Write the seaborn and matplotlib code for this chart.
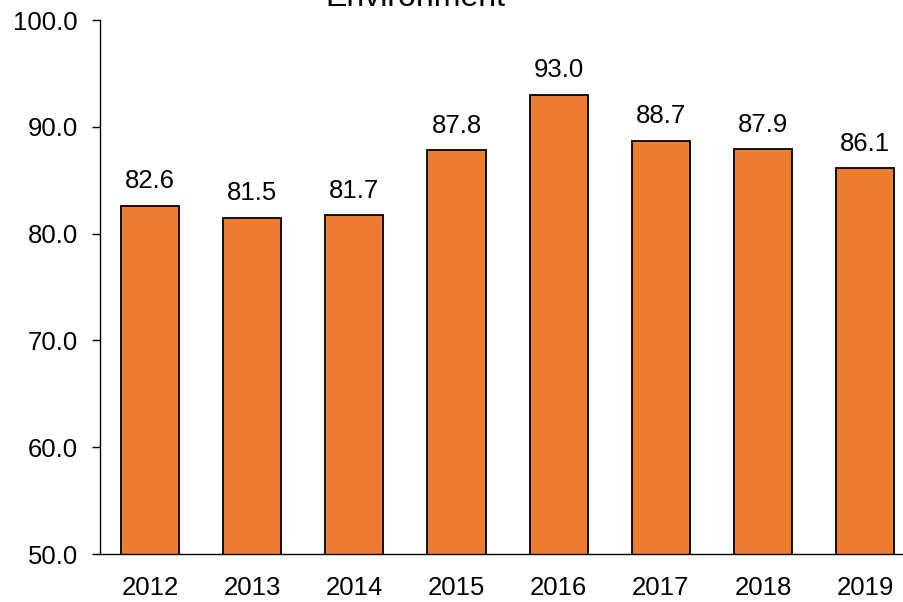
import matplotlib
matplotlib.use('Agg')
import matplotlib.pyplot as plt
import seaborn as sns
import pandas as pd

# data
years = ['2012', '2013', '2014', '2015', '2016', '2017', '2018', '2019']
values = [82.6, 81.5, 81.7, 87.8, 93.0, 88.7, 87.9, 86.1]

df = pd.DataFrame({'Year': years, 'Value': values})

sns.set_style('white')
plt.rcParams['font.family'] = ['Liberation Sans', 'DejaVu Sans']
plt.rcParams['text.color'] = 'black'
plt.rcParams['xtick.color'] = 'black'
plt.rcParams['ytick.color'] = 'black'

fig = plt.figure(figsize=(9.04, 6.02), dpi=100)
ax = fig.add_axes([100 / 904, 48 / 602, 804 / 904, 534 / 602])

sns.barplot(data=df, x='Year', y='Value', color='#ED7D31', saturation=1,
            width=0.57, edgecolor='black', linewidth=1.3, ax=ax)

ax.set_ylim(50, 100)
ax.set_xlim(-0.49, 7.38)
ax.set_yticks([50, 60, 70, 80, 90, 100])
ax.set_yticklabels([f'{v:.1f}' for v in [50, 60, 70, 80, 90, 100]])
ax.set_xlabel('')
ax.set_ylabel('')

sns.despine(ax=ax, top=True, right=True)
for s in ['left', 'bottom']:
    ax.spines[s].set_color('black')
    ax.spines[s].set_linewidth(1.0)

ax.tick_params(axis='y', left=True, length=6, width=1, color='black',
               labelsize=18.5, pad=10, direction='out', labelcolor='black')
ax.tick_params(axis='x', bottom=False, labelsize=18.5, pad=12, labelcolor='black')

# value labels above bars
for i, v in enumerate(values):
    ax.annotate(f'{v:.1f}', xy=(i, v), xytext=(0, 9), textcoords='offset points',
                ha='center', va='bottom', fontsize=18.5, color='black')

# title, cut off at the top as in the reference
fig.text(415 / 904, 1 - 6 / 602, 'Environment', ha='center', va='baseline',
         fontsize=23, color='black')

fig.savefig('out.png', dpi=100)
